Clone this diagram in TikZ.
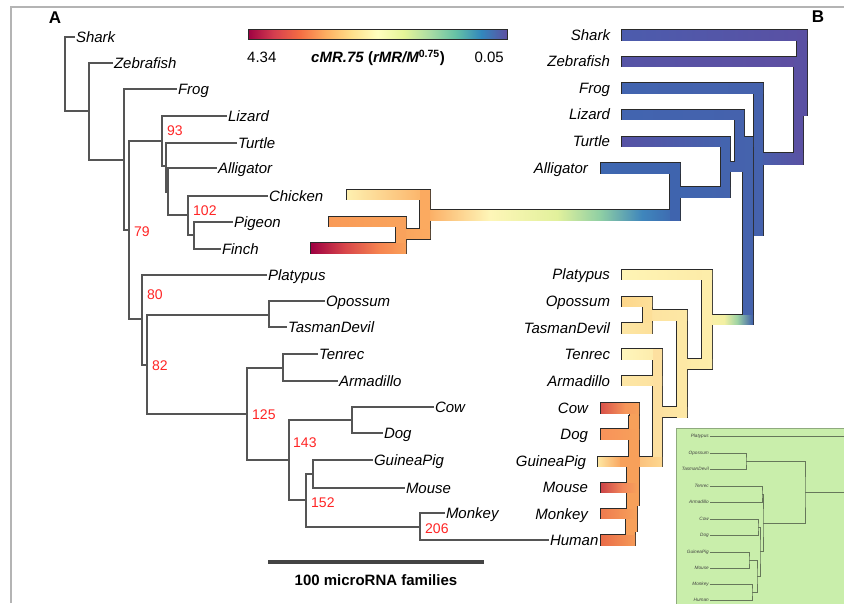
\documentclass[tikz,border=0pt]{standalone}
\usepackage{fontspec}
\setmainfont{Liberation Sans}
\definecolor{sp1}{HTML}{9E0142}
\definecolor{sp2}{HTML}{D53E4F}
\definecolor{sp3}{HTML}{F46D43}
\definecolor{sp4}{HTML}{FDAE61}
\definecolor{sp5}{HTML}{FEE08B}
\definecolor{sp6}{HTML}{FFFFBF}
\definecolor{sp7}{HTML}{E6F598}
\definecolor{sp8}{HTML}{ABDDA4}
\definecolor{sp9}{HTML}{66C2A5}
\definecolor{sp10}{HTML}{3288BD}
\definecolor{sp11}{HTML}{5E4FA2}
\pgfdeclarehorizontalshading{spectral}{100bp}{color(0bp)=(sp1); color(25bp)=(sp1); color(30bp)=(sp2); color(35bp)=(sp3); color(40bp)=(sp4); color(45bp)=(sp5); color(50bp)=(sp6); color(55bp)=(sp7); color(60bp)=(sp8); color(65bp)=(sp9); color(70bp)=(sp10); color(75bp)=(sp11); color(100bp)=(sp11)}
\definecolor{brgray}{HTML}{555555}
\definecolor{numred}{HTML}{FF2525}
\definecolor{framegray}{HTML}{B4B4B4}
\definecolor{insetgreen}{HTML}{C9EEAB}
\definecolor{insetedge}{HTML}{8FAA7E}
\definecolor{insetline}{HTML}{66775A}
\definecolor{outl}{HTML}{2A2A2A}
\definecolor{scalegray}{HTML}{444444}
\newcommand\tbOut[6]{\draw[bout] (#1,#2) rectangle (#3,#4);}
\newcommand\tbFill[6]{\definecolor{tbL}{HTML}{#5}\definecolor{tbR}{HTML}{#6}\shade[left color=tbL,right color=tbR] (#1,#2) rectangle (#3,#4);}
\newcommand\treeBlist{%
% outgroups
\tbseg{622}{30}{807}{40}{4C5CAD}{5A50A3}%
\tbseg{797}{30}{807}{115}{5A50A3}{5A50A3}%
\tbseg{622}{57}{798}{66}{5654A6}{5E4FA2}%
\tbseg{794}{57}{803}{164}{5B51A3}{5B51A3}%
\tbseg{754}{153}{803}{164}{4661AD}{5A51A3}%
\tbseg{622}{83}{763}{93}{4264AF}{4562AD}%
\tbseg{754}{83}{763}{235}{4562AD}{4562AD}%
\tbseg{743}{137}{753}{324}{4563AD}{4563AD}%
\tbseg{735}{137}{753}{146}{4563AD}{4563AD}%
\tbseg{622}{110}{744}{119}{4264AF}{4562AD}%
\tbseg{735}{110}{744}{171}{4562AD}{4562AD}%
\tbseg{721}{162}{744}{171}{4562AD}{4562AD}%
\tbseg{622}{137}{730}{146}{5652A5}{4464AE}%
\tbseg{721}{137}{730}{197}{4464AE}{4464AE}%
% birds
\tbseg{425}{210}{490}{220}{FBAA60}{FEF6B8}%
\tbseg{490}{210}{557}{220}{FEF6B8}{E2F19C}%
\tbseg{557}{210}{600}{220}{E2F19C}{8FCFA4}%
\tbseg{600}{210}{642}{220}{8FCFA4}{3F86BC}%
\tbseg{642}{210}{680}{220}{3F86BC}{3D63AE}%
\tbseg{670}{187}{730}{197}{3F66AF}{4464AE}%
\tbseg{601}{163}{680}{173}{3E67B0}{3F64AE}%
\tbseg{670}{163}{680}{220}{3F64AE}{3F64AE}%
\tbseg{347}{190}{430}{199}{FEF0B0}{FBAE63}%
\tbseg{420}{190}{430}{238}{FBAA60}{FBAA60}%
\tbseg{396}{229.5}{430}{238.5}{FAA45D}{FBAA60}%
\tbseg{329}{217}{406}{226}{F99A57}{F9A45C}%
\tbseg{396}{217}{406}{253}{F9A25C}{F9A25C}%
\tbseg{311}{243}{345}{253}{9E0142}{D8464A}%
\tbseg{345}{243}{380}{253}{D8464A}{F68550}%
\tbseg{380}{243}{406}{253}{F68550}{F9A05A}%
% mammals
\tbseg{702}{315}{724}{324}{FDEFAC}{F3F0A3}%
\tbseg{724}{315}{737}{324}{F3F0A3}{9FD4A4}%
\tbseg{737}{315}{753}{324}{9FD4A4}{3F5FAB}%
\tbseg{622}{270}{712}{279}{FEF4B5}{FDEBA7}%
\tbseg{702}{270}{712}{368}{FDEDAA}{FDEDAA}%
\tbseg{677}{359.5}{712}{368.5}{FDE9A6}{FDEDAA}%
\tbseg{677}{310}{687}{417}{FDE8A5}{FDE8A5}%
\tbseg{643}{310}{687}{320}{FDE2A0}{FDE8A5}%
\tbseg{643}{297}{652}{333}{FDDF98}{FDDF98}%
\tbseg{622}{297}{652}{306}{FDD68A}{FDE09A}%
\tbseg{622}{323}{652}{333}{FDE6A4}{FDE09A}%
\tbseg{653}{407.5}{687}{416.5}{FDE0A0}{FDE8A5}%
\tbseg{622}{349}{662}{359}{FEF6BC}{FDE9A8}%
\tbseg{622}{376}{662}{385}{FDE6A5}{FDE2A0}%
\tbseg{653}{349}{662}{466}{FDE0A0}{FDE0A0}%
\tbseg{629}{416}{639}{505}{F7A05A}{F7A05A}%
\tbseg{630}{403}{639}{439}{F7A05A}{F7A05A}%
\tbseg{601}{403}{625}{413}{D9534A}{F5955A}%
\tbseg{625}{403}{639}{413}{F5955A}{F7A05A}%
\tbseg{601}{429}{639}{439}{F8935A}{F7A05A}%
\tbseg{627}{457}{637}{492}{F7A05A}{F7A05A}%
\tbseg{627}{470}{637}{531}{F7A05A}{F7A05A}%
\tbseg{626}{509}{635}{545}{F7A05A}{F7A05A}%
\tbseg{601}{483}{622}{492}{CC4548}{F2865A}%
\tbseg{622}{483}{637}{492}{F2865A}{F7A05A}%
\tbseg{601}{509}{635}{518}{EE7B4E}{F7A05A}%
\tbseg{601}{535}{635}{545}{EA6C48}{F59A58}%
\tbseg{598}{457}{620}{466}{FEE6A2}{F9A862}%
\tbseg{620}{457}{640}{466}{F7A05A}{F7A05A}%
\tbseg{640}{457}{662}{466}{FBC27E}{FDD890}%
}
\tikzset{
 lab/.style={font=\fontsize{15}{18}\selectfont\itshape, inner xsep=0.8pt, inner ysep=0pt, text height=10.5pt, text depth=0pt},
 num/.style={font=\fontsize{14}{16}\selectfont, text=numred, inner sep=0pt, anchor=west, text height=10pt, text depth=0pt},
 br/.style={draw=brgray, line width=1.1pt},
 bout/.style={draw=outl, line width=2.3pt},
 ilab/.style={font=\fontsize{4.7}{5}\selectfont\itshape, inner xsep=0.5pt, inner ysep=0pt, anchor=east, text=black!75, text height=3.4pt, text depth=0pt},
 ibr/.style={draw=insetline, line width=0.6pt},
 pl/.style={font=\fontsize{17}{20}\selectfont\bfseries, inner sep=0pt},
 cbtext/.style={font=\fontsize{15}{18}\selectfont, inner sep=0pt, text height=10.5pt, text depth=0pt},
}
\begin{document}
\begin{tikzpicture}[x=1pt,y=-1pt]
\useasboundingbox (0,0) rectangle (844,603);
\fill[white] (0,0) rectangle (844,603);
% frame
\coordinate (fBL) at (11,603);
\coordinate (fTL) at (11,7);
\coordinate (fTR) at (844,7);
\draw[framegray, line width=1.5pt] (fBL) -- (fTL) -- (fTR);
% panel letters
\node[pl] (letA) at (55,18) {A};
\node[pl] (letB) at (818,17) {B};
% colour bar
\shade[shading=spectral] (248,29) rectangle (507,39);
\draw[outl, line width=0.8pt] (248,29) rectangle (507,39);
\node[cbtext, anchor=west] (cbmax) at (247,57) {4.34};
\node[cbtext, anchor=east] (cbmin) at (504,57) {0.05};
\node[cbtext] (cbtitle) at (378,57) {{\bfseries\itshape cMR.75} \textbf{(}{\bfseries\itshape rMR/M}\textsuperscript{\bfseries 0.75}\textbf{)}};
% ---------------- panel A ----------------
\node[lab, anchor=west] (aShark) at (75,37) {Shark};
\node[lab, anchor=west] (aZebrafish) at (113,63) {Zebrafish};
\node[lab, anchor=west] (aFrog) at (177,89) {Frog};
\node[lab, anchor=west] (aLizard) at (227,116) {Lizard};
\node[lab, anchor=west] (aTurtle) at (237,143) {Turtle};
\node[lab, anchor=west] (aAlligator) at (217,168) {Alligator};
\node[lab, anchor=west] (aChicken) at (268,196) {Chicken};
\node[lab, anchor=west] (aPigeon) at (233,222) {Pigeon};
\node[lab, anchor=west] (aFinch) at (221,249) {Finch};
\node[lab, anchor=west] (aPlatypus) at (267,275) {Platypus};
\node[lab, anchor=west] (aOpossum) at (325,301) {Opossum};
\node[lab, anchor=west] (aTasman) at (287,327) {TasmanDevil};
\node[lab, anchor=west] (aTenrec) at (318,354) {Tenrec};
\node[lab, anchor=west] (aArmadillo) at (338,381) {Armadillo};
\node[lab, anchor=west] (aCow) at (434,407) {Cow};
\node[lab, anchor=west] (aDog) at (383,433) {Dog};
\node[lab, anchor=west] (aGuineaPig) at (373,460) {GuineaPig};
\node[lab, anchor=west] (aMouse) at (405,488) {Mouse};
\node[lab, anchor=west] (aMonkey) at (445,513) {Monkey};
\node[lab, anchor=west] (aHuman) at (549,540) {Human};
\coordinate (root) at (65,74);
\coordinate (n2) at (89,111);
\coordinate (n3) at (124,160);
\coordinate (n4) at (129,230);
\coordinate (n5) at (162,141);
\coordinate (n6) at (166,166);
\coordinate (n7) at (168,192);
\coordinate (n8) at (188,215);
\coordinate (n9) at (194,235);
\coordinate (n10) at (142,319);
\coordinate (n11) at (147,365);
\coordinate (mars) at (269,315);
\coordinate (n12) at (247,414);
\coordinate (afro) at (283,368);
\coordinate (n13) at (289,460);
\coordinate (laur) at (352,420);
\coordinate (n14) at (306,500);
\coordinate (glires) at (313,474);
\coordinate (prim) at (420,527);
\draw[br] (aShark.west) -| (root) |- (n2);
\draw[br] (aZebrafish.west) -| (n2) |- (n3);
\draw[br] (aFrog.west) -| (n3) |- (n4);
\draw[br] (n5) -| (n4) |- (n10);
\draw[br] (aLizard.west) -| (n5) |- (n6);
\draw[br] (aTurtle.west) -| (n6) |- (n7);
\draw[br] (aAlligator.west) -| (n7) |- (n8);
\draw[br] (aChicken.west) -| (n8) |- (n9);
\draw[br] (aPigeon.west) -| (n9) |- (aFinch.west);
\draw[br] (aPlatypus.west) -| (n10) |- (n11);
\draw[br] (mars) -| (n11) |- (n12);
\draw[br] (aOpossum.west) -| (mars) |- (aTasman.west);
\draw[br] (afro) -| (n12) |- (n13);
\draw[br] (aTenrec.west) -| (afro) |- (aArmadillo.west);
\draw[br] (laur) -| (n13) |- (n14);
\draw[br] (aCow.west) -| (laur) |- (aDog.west);
\draw[br] (glires) -| (n14) |- (prim);
\draw[br] (aGuineaPig.west) -| (glires) |- (aMouse.west);
\draw[br] (aMonkey.west) -| (prim) |- (aHuman.west);
% support values
\node[num] (s93) at (167,130) {93};
\node[num] (s102) at (193,210) {102};
\node[num] (s79) at (134,231) {79};
\node[num] (s80) at (147,294) {80};
\node[num] (s82) at (152,365) {82};
\node[num] (s125) at (252,414) {125};
\node[num] (s143) at (293,442) {143};
\node[num] (s152) at (311,502) {152};
\node[num] (s206) at (425,528) {206};
% scale bar
\coordinate (sbL) at (268,562);
\coordinate (sbR) at (484,562);
\draw[scalegray, line width=4pt] (sbL) -- (sbR);
\node[cbtext, font=\fontsize{15}{18}\selectfont\bfseries] (sbtext) at (376,580) {100 microRNA families};
% ---------------- panel B ----------------
\let\tbseg\tbOut \treeBlist
\let\tbseg\tbFill \treeBlist
\node[lab, anchor=east] (bShark) at (611,35) {Shark};
\node[lab, anchor=east] (bZebrafish) at (611,61) {Zebrafish};
\node[lab, anchor=east] (bFrog) at (611,88) {Frog};
\node[lab, anchor=east] (bLizard) at (611,114.5) {Lizard};
\node[lab, anchor=east] (bTurtle) at (611,141) {Turtle};
\node[lab, anchor=east] (bAlligator) at (589,168) {Alligator};
\node[lab, anchor=east] (bPlatypus) at (611,274.5) {Platypus};
\node[lab, anchor=east] (bOpossum) at (611,301) {Opossum};
\node[lab, anchor=east] (bTasman) at (611,328) {TasmanDevil};
\node[lab, anchor=east] (bTenrec) at (611,354) {Tenrec};
\node[lab, anchor=east] (bArmadillo) at (611,381) {Armadillo};
\node[lab, anchor=east] (bCow) at (589,408) {Cow};
\node[lab, anchor=east] (bDog) at (589,434) {Dog};
\node[lab, anchor=east] (bGuineaPig) at (587,461) {GuineaPig};
\node[lab, anchor=east] (bMouse) at (589,487.5) {Mouse};
\node[lab, anchor=east] (bMonkey) at (589,514) {Monkey};
% ---------------- inset ----------------
\begin{scope}
\clip (0,0) rectangle (844,603);
\draw[fill=insetgreen, draw=insetedge, line width=1pt] (676,428) rectangle (860,620);
\node[ilab] (iPlat) at (709.5,436) {Platypus};
\node[ilab] (iOpos) at (709.5,453) {Opossum};
\node[ilab] (iTasm) at (709.5,469) {TasmanDevil};
\node[ilab] (iTenr) at (709.5,486) {Tenrec};
\node[ilab] (iArma) at (709.5,502) {Armadillo};
\node[ilab] (iCow) at (709.5,519) {Cow};
\node[ilab] (iDog) at (709.5,535) {Dog};
\node[ilab] (iGuin) at (709.5,552) {GuineaPig};
\node[ilab] (iMous) at (709.5,568) {Mouse};
\node[ilab] (iMonk) at (709.5,584) {Monkey};
\node[ilab] (iHuma) at (709.5,600) {Human};
\coordinate (imars) at (746,461);
\coordinate (iafro) at (762,494);
\coordinate (ilaur) at (758,527);
\coordinate (iglir) at (749,560);
\coordinate (iprim) at (752,592);
\coordinate (ieuar) at (757,576);
\coordinate (iboreo) at (760,551.5);
\coordinate (iplac) at (763,523);
\coordinate (ither) at (805,492);
\coordinate (iPlatEnd) at (850,436);
\coordinate (iRootEnd) at (850,492);
\draw[ibr] (iPlat.east) -- (iPlatEnd);
\draw[ibr] (iOpos.east) -| (imars) |- (iTasm.east);
\draw[ibr] (iTenr.east) -| (iafro) |- (iArma.east);
\draw[ibr] (iCow.east) -| (ilaur) |- (iDog.east);
\draw[ibr] (iGuin.east) -| (iglir) |- (iMous.east);
\draw[ibr] (iMonk.east) -| (iprim) |- (iHuma.east);
\draw[ibr] (iglir) -| (ieuar) |- (iprim);
\draw[ibr] (ilaur) -| (iboreo) |- (ieuar);
\draw[ibr] (iafro) -| (iplac) |- (iboreo);
\draw[ibr] (imars) -| (ither) |- (iplac);
\draw[ibr] (ither) -- (iRootEnd);
\end{scope}
\end{tikzpicture}
\end{document}
